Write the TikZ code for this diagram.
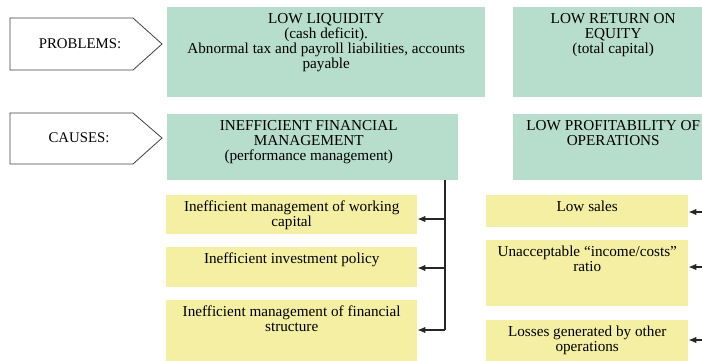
\documentclass[tikz,border=0pt]{standalone}
\usepackage{fontspec}
\setmainfont{Liberation Serif}
\usetikzlibrary{arrows.meta}
\definecolor{boxgreen}{RGB}{183,221,204}
\definecolor{boxyellow}{RGB}{244,239,162}

\begin{document}
\begin{tikzpicture}[x=1pt, y=-1pt,
    txt/.style={font=\fontsize{15.2}{15}\selectfont, align=center, inner sep=0pt, anchor=north},
    gbox/.style={fill=boxgreen, anchor=north west, inner sep=0pt},
    ybox/.style={fill=boxyellow, anchor=north west, inner sep=0pt},
    tag/.style={draw=black!75, line width=0.8pt, fill=white},
    link/.style={line width=1.1pt, draw=black!85, -{Latex[length=8pt,width=6.5pt]}}]
    \useasboundingbox (0,0) rectangle (702,360);
    \clip (0,0) rectangle (702,360);

    % Row labels
    \draw[tag] (10,18) -- (133,18) -- (162,44) -- (133,70) -- (10,70) -- cycle;
    \node[font=\fontsize{14.8}{15}\selectfont] (problems) at (80,44) {PROBLEMS:};
    \draw[tag] (10,113) -- (133,113) -- (162,138) -- (133,164) -- (10,164) -- cycle;
    \node[font=\fontsize{14.8}{15}\selectfont] (causes) at (79,138) {CAUSES:};

    % Problems
    \node[gbox, minimum width=318, minimum height=90] (liq) at (167,7) {};
    \node[txt] (liqtext) at ([yshift=-6pt]liq.north) {LOW LIQUIDITY\\(cash deficit).\\Abnormal tax and payroll liabilities, accounts\\payable};
    \node[gbox, minimum width=200, minimum height=90] (roe) at (513,7) {};
    \node[txt] (roetext) at ([yshift=-6pt]roe.north) {LOW RETURN ON\\EQUITY\\(total capital)};

    % Causes
    \node[gbox, minimum width=291, minimum height=66] (ineff) at (167,114) {};
    \node[txt] (inefftext) at ([xshift=-4pt, yshift=-6pt]ineff.north) {INEFFICIENT FINANCIAL\\MANAGEMENT\\(performance management)};
    \node[gbox, minimum width=200, minimum height=66] (prof) at (513,114) {};
    \node[txt] (proftext) at ([yshift=-6pt]prof.north) {LOW PROFITABILITY OF\\OPERATIONS};

    % Financial management factors
    \node[ybox, minimum width=251, minimum height=39] (wc) at (166,195) {};
    \node[txt] (wctext) at ([yshift=-6pt]wc.north) {Inefficient management of working\\capital};
    \node[ybox, minimum width=251, minimum height=40] (inv) at (166,247) {};
    \node[txt] (invtext) at ([yshift=-6pt]inv.north) {Inefficient investment policy};
    \node[ybox, minimum width=251, minimum height=70] (fs) at (166,300) {};
    \node[txt] (fstext) at ([yshift=-6pt]fs.north) {Inefficient management of financial\\structure};

    % Profitability factors
    \node[ybox, minimum width=202, minimum height=32] (sales) at (486,195) {};
    \node[txt] (salestext) at ([yshift=-6pt]sales.north) {Low sales};
    \node[ybox, minimum width=202, minimum height=66] (ratio) at (486,240) {};
    \node[txt] (ratiotext) at ([yshift=-6pt]ratio.north) {Unacceptable ``income/costs''\\ratio};
    \node[ybox, minimum width=202, minimum height=50] (loss) at (486,320) {};
    \node[txt] (losstext) at ([yshift=-6pt]loss.north) {Losses generated by other\\operations};

    % Connectors
    \coordinate (t1) at (445,219);
    \coordinate (t2) at (445,268);
    \coordinate (t3) at (445,330);
    \draw[line width=1.1pt, black!85] (ineff.south -| t1) -- (t3);
    \draw[link] (t1) -- (t1 -| wc.east);
    \draw[link] (t2) -- (t2 -| inv.east);
    \draw[link] (t3) -- (t3 -| fs.east);

    \coordinate (r1) at (712,212);
    \coordinate (r2) at (712,267);
    \coordinate (r3) at (712,340);
    \draw[link] (r1) -- (r1 -| sales.east);
    \draw[link] (r2) -- (r2 -| ratio.east);
    \draw[link] (r3) -- (r3 -| loss.east);
\end{tikzpicture}
\end{document}
